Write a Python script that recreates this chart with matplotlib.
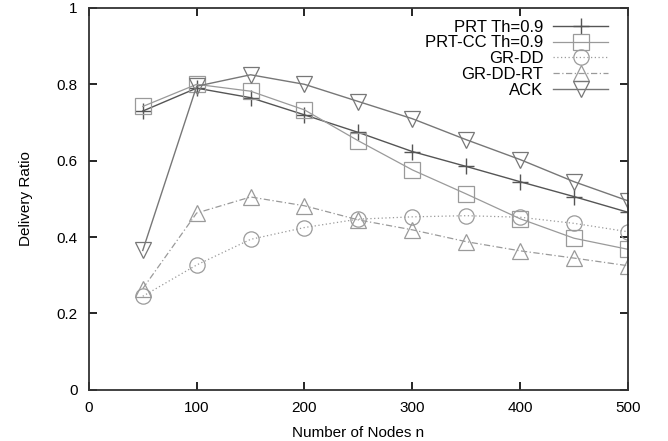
import matplotlib.pyplot as plt

plt.rcParams['font.family'] = ['Liberation Sans', 'DejaVu Sans']

nodes = [50, 100, 150, 200, 250, 300, 350, 400, 450, 500]
prt = [0.73, 0.79, 0.765, 0.72, 0.674, 0.624, 0.585, 0.545, 0.506, 0.465]
prt_cc = [0.742, 0.80, 0.782, 0.733, 0.652, 0.576, 0.513, 0.448, 0.397, 0.368]
gr_dd = [0.245, 0.327, 0.394, 0.425, 0.447, 0.453, 0.456, 0.452, 0.436, 0.414]
gr_dd_rt = [0.265, 0.463, 0.505, 0.482, 0.445, 0.419, 0.388, 0.364, 0.345, 0.325]
ack = [0.365, 0.795, 0.825, 0.80, 0.755, 0.71, 0.655, 0.603, 0.545, 0.495]

fig = plt.figure(figsize=(6.68, 4.41), dpi=100)
ax = fig.add_axes([0.133, 0.116, 0.807, 0.866])

ax.plot(nodes, prt, color='#555555', lw=1.0, marker='+', ms=12, mew=1.0, label='PRT Th=0.9')
ax.plot(nodes, prt_cc, color='#9a9a9a', lw=0.9, marker='s', ms=11, mfc='none', mew=0.9, label='PRT-CC Th=0.9')
ax.plot(nodes, gr_dd, color='#9a9a9a', lw=0.9, ls=(0, (1, 2)), marker='o', ms=11, mfc='none', mew=0.9, label='GR-DD')
ax.plot(nodes, gr_dd_rt, color='#9a9a9a', lw=0.9, ls=(0, (5, 2, 1, 2)), marker='^', ms=11, mfc='none', mew=0.9, label='GR-DD-RT')
ax.plot(nodes, ack, color='#777777', lw=1.0, marker='v', ms=11, mfc='none', mew=0.9, label='ACK')

ax.set_xlim(0, 500)
ax.set_ylim(0, 1)
ax.set_xticks([0, 100, 200, 300, 400, 500])
ax.set_yticks([0, 0.2, 0.4, 0.6, 0.8, 1])
ax.set_yticklabels(['0', '0.2', '0.4', '0.6', '0.8', '1'])
ax.tick_params(direction='in', top=True, right=True, length=6, width=1.2, labelsize=11, pad=8)
for s in ax.spines.values():
    s.set_linewidth(1.3)
    s.set_color('#333333')

ax.set_xlabel('Number of Nodes n', fontsize=11, labelpad=8)
ax.set_ylabel('Delivery Ratio', fontsize=11, labelpad=17)

ax.legend(loc='upper right', frameon=False, markerfirst=False, handlelength=3.3,
          fontsize=12, labelspacing=0.05, handletextpad=0.6, borderaxespad=0.3,
          bbox_to_anchor=(0.985, 1.0))

fig.savefig('out.png', dpi=100)
